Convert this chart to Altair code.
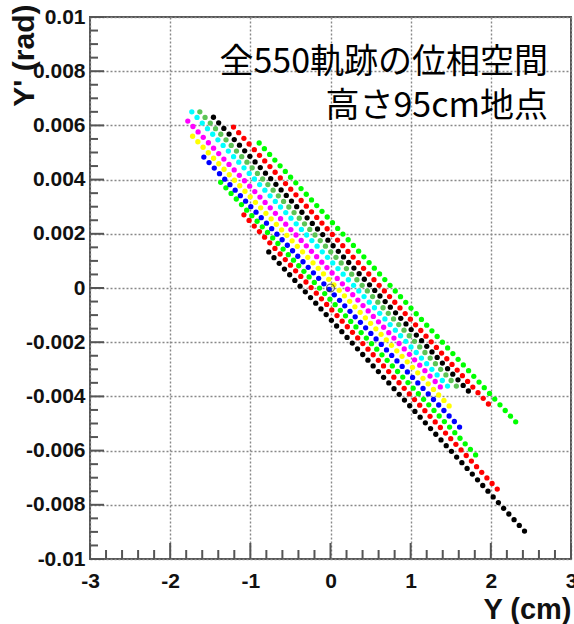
import altair as alt
import pandas as pd
import numpy as np

# 11 bands of tracks, 50 tracks each (550 tracks)
line_colors = ["#000000", "#ff0000", "#00ff00", "#0000ff", "#ffff00", "#ff00ff",
               "#00ffff", "#5cc455", "#000000", "#ff0000", "#00ff00"]
start_x = [-0.77, -1.08, -1.37, -1.58, -1.72, -1.78, -1.73, -1.63, -1.46, -1.21, -0.89]
start_y = [0.00133, 0.0027, 0.0039, 0.00483, 0.0056, 0.00616, 0.0065, 0.0065, 0.0063, 0.00594, 0.00535]
end_x = [2.42, 2.08, 1.81, 1.61, 1.48, 1.37, 1.46, 1.57, 1.72, 1.97, 2.31]
end_y = [-0.00897, -0.00742, -0.00616, -0.00513, -0.00435, -0.00365, -0.00362, -0.00362, -0.0038, -0.00428, -0.00494]
points_per_line = 50

# reference point
ref_x = [0.0]
ref_y = [0.0]

# axis ticks
x_major = [-3, -2, -1, 0, 1, 2, 3]
y_major = [-0.01, -0.008, -0.006, -0.004, -0.002, 0, 0.002, 0.004, 0.006, 0.008, 0.01]
x_minor = [round(v, 2) for v in np.arange(-3, 3.001, 0.2) if abs(v - round(v)) > 1e-6]
y_minor = [round(v, 5) for v in np.arange(-0.01, 0.01001, 0.0005) if abs(v / 0.002 - round(v / 0.002)) > 1e-6]

label_lines = ["全550軌跡の位相空間", "高さ95cm地点"]

rows = []
for i in range(len(start_x)):
    for k in range(points_per_line):
        f = k / (points_per_line - 1)
        rows.append({"line": i,
                     "x": start_x[i] + (end_x[i] - start_x[i]) * f,
                     "y": start_y[i] + (end_y[i] - start_y[i]) * f})
df = pd.DataFrame(rows)

W, H = 481, 542
xs = alt.Scale(domain=[-3, 3], nice=False, zero=False)
ys = alt.Scale(domain=[-0.01, 0.01], nice=False, zero=False)

lab = dict(labelFont="Liberation Sans", labelFontWeight="bold", labelFontSize=21,
           labelColor="#111", labelFlush=False, labelOverlap=False,
           titleFont="Liberation Sans", titleFontWeight="bold", titleFontSize=29,
           titleColor="#111", ticks=False, domain=False, grid=True,
           gridColor="#888", gridDash=[2, 2], gridWidth=1.4,
           labelExpr="toString(datum.value)")

x_axis = alt.Axis(values=x_major, title="Y (cm)", labelPadding=11,
                  titleAnchor="end", titleAlign="right",
                  titleBaseline="alphabetic", titleX=W, titleY=59, **lab)
y_axis = alt.Axis(values=y_major, title="Y' (rad)", labelPadding=5,
                  titleAngle=270, titleAlign="right", titleFontSize=30,
                  titleBaseline="alphabetic", titleX=-57, titleY=-13,
                  **{k: v for k, v in lab.items() if k != "titleFontSize"})

points = alt.Chart(df).mark_circle(size=28, opacity=1).encode(
    x=alt.X("x:Q", scale=xs, axis=x_axis),
    y=alt.Y("y:Q", scale=ys, axis=y_axis),
    color=alt.Color("line:N", scale=alt.Scale(domain=list(range(len(line_colors))), range=line_colors),
                    legend=None),
)

ref = alt.Chart(pd.DataFrame({"x": ref_x, "y": ref_y})).mark_point(
    shape="circle", filled=False, size=60, stroke="#333", strokeWidth=1.3).encode(
    x=alt.X("x:Q", scale=xs, axis=x_axis), y=alt.Y("y:Q", scale=ys, axis=y_axis))

tick_color = "#555"
ytick_maj = alt.Chart(pd.DataFrame({"y": y_major})).mark_rule(color=tick_color, strokeWidth=2).encode(
    y=alt.Y("y:Q", scale=ys, axis=y_axis), x=alt.value(0), x2=alt.value(14))
ytick_min = alt.Chart(pd.DataFrame({"y": y_minor})).mark_rule(color=tick_color, strokeWidth=2).encode(
    y=alt.Y("y:Q", scale=ys, axis=y_axis), x=alt.value(0), x2=alt.value(8))
xtick_maj = alt.Chart(pd.DataFrame({"x": x_major})).mark_rule(color=tick_color, strokeWidth=2).encode(
    x=alt.X("x:Q", scale=xs, axis=x_axis), y=alt.value(H), y2=alt.value(H - 16))
xtick_min = alt.Chart(pd.DataFrame({"x": x_minor})).mark_rule(color=tick_color, strokeWidth=2).encode(
    x=alt.X("x:Q", scale=xs, axis=x_axis), y=alt.value(H), y2=alt.value(H - 9))

txt_style = dict(font="Noto Sans CJK JP", fontSize=34, color="#000", align="right", baseline="middle")
t1 = alt.Chart(pd.DataFrame({"t": [label_lines[0]]})).mark_text(**txt_style).encode(
    text="t:N", x=alt.value(458), y=alt.value(46))
t2 = alt.Chart(pd.DataFrame({"t": [label_lines[1]]})).mark_text(**txt_style).encode(
    text="t:N", x=alt.value(458), y=alt.value(90))

chart = alt.layer(points, ref, ytick_maj, ytick_min, xtick_maj, xtick_min, t1, t2).properties(
    width=W, height=H,
    padding={"left": 90, "top": 17, "right": 3, "bottom": 65},
    autosize=alt.AutoSizeParams(type="none"),
    background="white",
).configure_view(stroke="#555", strokeWidth=2)

chart.save("out.html", embed_options={"renderer": "svg", "actions": False})
